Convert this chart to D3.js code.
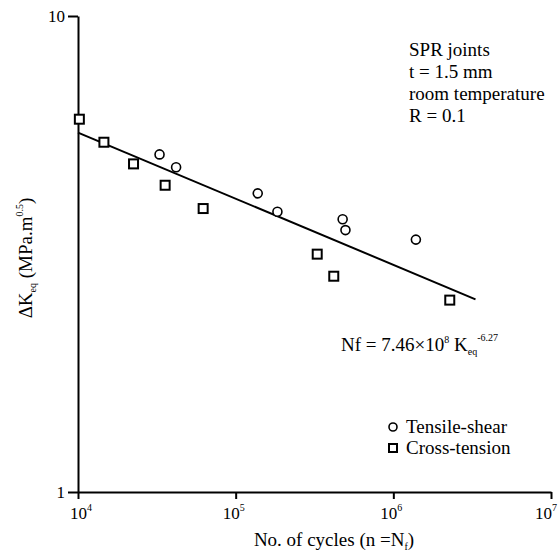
<!DOCTYPE html>
<html lang="en">
	<head>
		<meta charset="utf-8">
		<title>SPR joints fatigue</title>
		<script type="text/javascript" src="https://cdn.jsdelivr.net/npm/d3@7"></script>
		<style type="text/css">
			body { margin: 0; background: #fff; }
			text { font-family: "Liberation Serif", "Times New Roman", serif; fill: #000; }
		</style>
	</head>
	<body>
		<script type="text/javascript">

			//Width and height
			var w = 559;
			var h = 553;

			// Tensile-shear (circles)
			var shearN = [32900, 41900, 138000, 184000, 477000, 497000, 1390000];
			var shearK = [5.12, 4.81, 4.24, 3.88, 3.74, 3.55, 3.39];

			// Cross-tension (squares)
			var crossN = [10200, 14600, 22500, 35700, 62200, 329000, 419000, 2280000];
			var crossK = [6.07, 5.43, 4.89, 4.41, 3.94, 3.16, 2.84, 2.53];

			// fitted line end points
			var fitN = [10000, 3320000];
			var fitK = [5.69, 2.54];

			var xTicks = [4, 5, 6, 7];
			var yTicks = [1, 10];
			var notes = ["SPR joints", "t = 1.5 mm", "room temperature", "R = 0.1"];
			var legendNames = ["Tensile-shear", "Cross-tension"];

			var xScale = d3.scaleLog()
							.domain([1e4, 1e7])
							.range([78, 551]);

			var yScale = d3.scaleLog()
							.domain([1, 10])
							.range([492, 16]);

			//Create SVG element
			var svg = d3.select("body")
						.append("svg")
						.attr("width", w)
						.attr("height", h);

			//Axes
			svg.append("g")
				.attr("transform", "translate(0," + yScale(1) + ")")
				.call(d3.axisBottom(xScale)
					.tickValues(xTicks.map(function(d) { return Math.pow(10, d); }))
					.tickFormat("")
					.tickSizeInner(7)
					.tickSizeOuter(0));

			svg.append("g")
				.attr("transform", "translate(" + xScale(1e4) + ",0)")
				.call(d3.axisLeft(yScale)
					.tickValues(yTicks)
					.tickFormat("")
					.tickSizeInner(10)
					.tickSizeOuter(0));

			svg.selectAll(".domain, .tick line")
				.attr("stroke", "#000")
				.attr("stroke-width", 2);

			//x tick labels 10^n (kept inside the picture at both ends)
			var xl = svg.selectAll(".xlab")
				.data(xTicks)
				.enter()
				.append("text")
				.attr("class", "xlab")
				.attr("x", function(d) {
					var x = xScale(Math.pow(10, d)) - 13;
					return Math.max(70, Math.min(x, w - 24));
				})
				.attr("y", 519)
				.attr("font-size", "17px");
			xl.append("tspan").text("10");
			xl.append("tspan")
				.attr("dy", -8)
				.attr("font-size", "10px")
				.text(function(d) { return d; });

			//y tick labels
			svg.selectAll(".ylab")
				.data(yTicks)
				.enter()
				.append("text")
				.attr("class", "ylab")
				.attr("x", 65)
				.attr("y", function(d) { return yScale(d) + 6; })
				.attr("text-anchor", "end")
				.attr("font-size", "17px")
				.text(function(d) { return d; });

			//x title
			var xt = svg.append("text")
				.attr("x", 334)
				.attr("y", 546)
				.attr("text-anchor", "middle")
				.attr("font-size", "19px");
			xt.append("tspan").text("No. of cycles (n =N");
			xt.append("tspan").attr("dy", 4).attr("font-size", "10px").text("f");
			xt.append("tspan").attr("dy", -4).text(")");

			//y title
			var yt = svg.append("text")
				.attr("transform", "translate(32,258) rotate(-90)")
				.attr("text-anchor", "middle")
				.attr("font-size", "19px");
			yt.append("tspan").text("\u0394K");
			yt.append("tspan").attr("dy", 4).attr("font-size", "10px").text("eq");
			yt.append("tspan").attr("dy", -4).text(" (MPa.m");
			yt.append("tspan").attr("dy", -9).attr("font-size", "10px").text("0.5");
			yt.append("tspan").attr("dy", 9).text(")");

			//fit line
			var line = d3.line()
				.x(function(d, i) { return xScale(fitN[i]); })
				.y(function(d) { return yScale(d); });

			svg.append("path")
				.datum(fitK)
				.attr("d", line)
				.attr("fill", "none")
				.attr("stroke", "#000")
				.attr("stroke-width", 2);

			//circles
			svg.selectAll(".shear")
				.data(shearK)
				.enter()
				.append("circle")
				.attr("class", "shear")
				.attr("cx", function(d, i) { return xScale(shearN[i]); })
				.attr("cy", function(d) { return yScale(d); })
				.attr("r", 4.5)
				.attr("fill", "#fff")
				.attr("stroke", "#000")
				.attr("stroke-width", 1.6);

			//squares
			svg.selectAll(".cross")
				.data(crossK)
				.enter()
				.append("rect")
				.attr("class", "cross")
				.attr("x", function(d, i) { return xScale(crossN[i]) - 4.5; })
				.attr("y", function(d) { return yScale(d) - 4.5; })
				.attr("width", 9)
				.attr("height", 9)
				.attr("fill", "#fff")
				.attr("stroke", "#000")
				.attr("stroke-width", 2);

			//notes top right
			svg.selectAll(".note")
				.data(notes)
				.enter()
				.append("text")
				.attr("class", "note")
				.attr("x", 409)
				.attr("y", function(d, i) { return 56 + i * 22; })
				.attr("font-size", "19px")
				.text(function(d) { return d; });

			//equation
			var eq = svg.append("text")
				.attr("x", 341)
				.attr("y", 351)
				.attr("font-size", "19px");
			eq.append("tspan").text("Nf = 7.46\u00d710");
			eq.append("tspan").attr("dy", -8).attr("font-size", "10px").text("8");
			eq.append("tspan").attr("dy", 8).text(" K");
			eq.append("tspan").attr("dy", 4).attr("font-size", "10px").text("eq");
			eq.append("tspan").attr("dy", -14).attr("font-size", "10px").text("-6.27");

			//legend
			var lg = svg.selectAll(".leg")
				.data(legendNames)
				.enter()
				.append("g")
				.attr("class", "leg")
				.attr("transform", function(d, i) { return "translate(393," + (427 + i * 21) + ")"; });

			lg.filter(function(d, i) { return i == 0; })
				.append("circle")
				.attr("r", 4)
				.attr("fill", "#fff")
				.attr("stroke", "#000")
				.attr("stroke-width", 1.6);

			lg.filter(function(d, i) { return i == 1; })
				.append("rect")
				.attr("x", -4)
				.attr("y", -4)
				.attr("width", 8)
				.attr("height", 8)
				.attr("fill", "#fff")
				.attr("stroke", "#000")
				.attr("stroke-width", 2);

			lg.append("text")
				.attr("x", 13)
				.attr("y", 6)
				.attr("font-size", "19px")
				.text(function(d) { return d; });

		</script>
	</body>
</html>
